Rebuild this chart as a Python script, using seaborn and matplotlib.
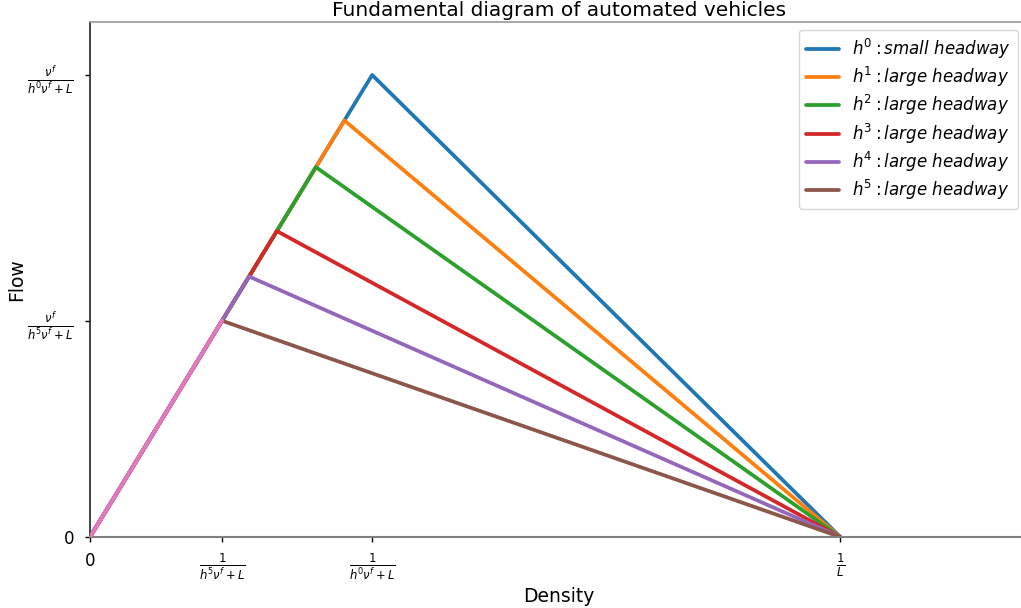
import numpy as np
import pandas as pd
import matplotlib
matplotlib.use("Agg")
import matplotlib.pyplot as plt
import seaborn as sns

# data
labels = [r'$h^0: small\ headway$', r'$h^1: large\ headway$', r'$h^2: large\ headway$',
          r'$h^3: large\ headway$', r'$h^4: large\ headway$', r'$h^5: large\ headway$']
jam_density = 1.0
critical_density = [0.376, 0.339, 0.301, 0.249, 0.212, 0.176]
critical_flow = [0.376, 0.339, 0.301, 0.249, 0.212, 0.176]
colors = ['#1f77b4', '#ff7f0e', '#2ca02c', '#d62728', '#9467bd', '#8c564b']
free_flow_color = '#e377c2'
xtick_labels = ['0', r'$\frac{1}{h^5\nu^f+L}$', r'$\frac{1}{h^0\nu^f+L}$', r'$\frac{1}{L}$']
ytick_labels = ['0', r'$\frac{\nu^f}{h^5\nu^f+L}$', r'$\frac{\nu^f}{h^0\nu^f+L}$']

sns.set_theme(style="ticks")
plt.rcParams['font.family'] = ['DejaVu Sans']
plt.rcParams.update({'text.color': 'black', 'axes.labelcolor': 'black',
                     'xtick.color': 'black', 'ytick.color': 'black'})

fig = plt.figure(figsize=(10.21, 6.08), dpi=100)
ax = fig.add_axes([90/1021, 1-537/608, 938/1021, 515/608])

for lab, kc, qc, c in zip(labels, critical_density, critical_flow, colors):
    df = pd.DataFrame({'Density': [0.0, kc, jam_density], 'Flow': [0.0, qc, 0.0]})
    sns.lineplot(data=df, x='Density', y='Flow', sort=False, color=c, linewidth=2.7,
                 label=lab, ax=ax)

# free-flow branch shared by all headways
ff = pd.DataFrame({'Density': [0.0, critical_density[-1]], 'Flow': [0.0, critical_flow[-1]]})
sns.lineplot(data=ff, x='Density', y='Flow', sort=False, color=free_flow_color,
             linewidth=2.9, zorder=10, ax=ax)

ax.set_xlim(0, 1.25 * jam_density)
ax.set_ylim(0, critical_flow[0] * 515 / 462)

ax.set_xticks([0, critical_density[-1], critical_density[0], jam_density])
ax.set_xticklabels(xtick_labels)
ax.set_yticks([0, critical_flow[-1], critical_flow[0]])
ax.set_yticklabels(ytick_labels)
ax.tick_params(axis='both', labelsize=12, length=3.5, width=1)
ax.tick_params(axis='y', pad=8)
ax.tick_params(axis='x', pad=7)

ax.spines['right'].set_visible(False)
ax.spines['top'].set_visible(True)
ax.spines['top'].set_color('#999999')
ax.spines['top'].set_linewidth(1.2)
ax.spines['bottom'].set_visible(True)
ax.spines['bottom'].set_color('grey')
ax.spines['bottom'].set_linewidth(1.5)
ax.spines['left'].set_color('#222222')
ax.spines['left'].set_linewidth(1.2)

ax.set_xlabel('Density', fontsize=13.5)
ax.set_ylabel('Flow', fontsize=13.5, labelpad=1)
ax.set_title('Fundamental diagram of automated vehicles', fontsize=14.5, pad=4)

leg = ax.legend(loc='upper right', bbox_to_anchor=(1018/1021, 1-30/608),
                bbox_transform=fig.transFigure, borderaxespad=0,
                fontsize=12, frameon=True, handlelength=2.0, labelspacing=0.25)

fig.savefig('out.png', dpi=100)
